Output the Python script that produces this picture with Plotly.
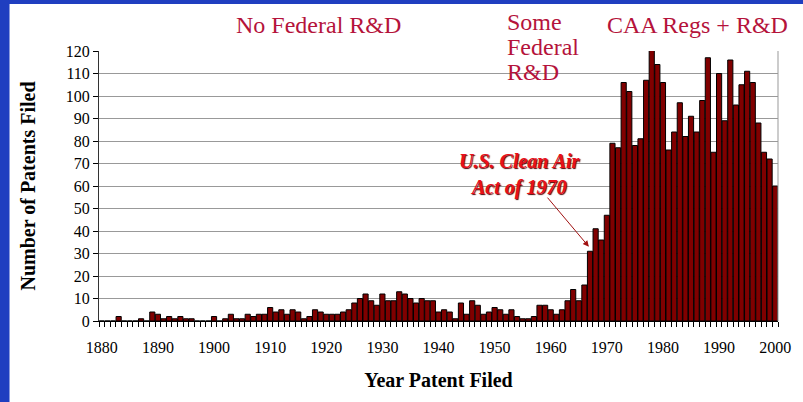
import plotly.graph_objects as go

years = list(range(1880, 2001))
patents = {
    1883: 2, 1887: 1, 1889: 4, 1890: 3, 1891: 1, 1892: 2, 1893: 1, 1894: 2, 1895: 1, 1896: 1,
    1900: 2, 1902: 1, 1903: 3, 1904: 1, 1905: 1, 1906: 3, 1907: 2, 1908: 3, 1909: 3,
    1910: 6, 1911: 4, 1912: 5, 1913: 3, 1914: 5, 1915: 4, 1916: 1, 1917: 2, 1918: 5, 1919: 4,
    1920: 3, 1921: 3, 1922: 3, 1923: 4, 1924: 5, 1925: 8, 1926: 10, 1927: 12, 1928: 9, 1929: 7,
    1930: 12, 1931: 9, 1932: 9, 1933: 13, 1934: 12, 1935: 10, 1936: 8, 1937: 10, 1938: 9, 1939: 9,
    1940: 4, 1941: 5, 1942: 4, 1943: 1, 1944: 8, 1945: 3, 1946: 9, 1947: 7, 1948: 3, 1949: 4,
    1950: 6, 1951: 5, 1952: 3, 1953: 5, 1954: 2, 1955: 1, 1956: 1, 1957: 2, 1958: 7, 1959: 7,
    1960: 5, 1961: 3, 1962: 5, 1963: 9, 1964: 14, 1965: 9, 1966: 16, 1967: 31, 1968: 41, 1969: 36,
    1970: 47, 1971: 79, 1972: 77, 1973: 106, 1974: 102, 1975: 78, 1976: 81, 1977: 107, 1978: 121, 1979: 114,
    1980: 106, 1981: 76, 1982: 84, 1983: 97, 1984: 82, 1985: 91, 1986: 84, 1987: 98, 1988: 117, 1989: 75,
    1990: 110, 1991: 89, 1992: 116, 1993: 96, 1994: 105, 1995: 111, 1996: 106, 1997: 88, 1998: 75, 1999: 72,
    2000: 60,
}
values = [patents.get(y, 0) for y in years]
tick_years = list(range(1880, 2001, 10))
y_ticks = list(range(0, 121, 10))

SERIF = "Liberation Serif"
HEAD = "#b5133b"

fig = go.Figure()
fig.add_trace(go.Bar(
    x=years, y=values,
    marker=dict(color="#800000", line=dict(color="black", width=1)),
    cliponaxis=False, hoverinfo="x+y",
))

# plot-area pixel geometry, used to place slide decorations in paper coords
L, R, T, B = 99, 782, 51, 321
W, H = R - L, B - T
def px(xp): return (xp - L) / W
def py(yp): return (B - yp) / H

fig.add_shape(type="rect", xref="paper", yref="paper", x0=px(9), x1=px(810), y0=py(4), y1=py(410),
              fillcolor="white", line=dict(width=0), layer="below")
fig.add_shape(type="line", xref="paper", yref="paper", x0=1, x1=1, y0=0, y1=1,
              line=dict(color="#999999", width=1))

def label(text, x, y, anchor="center", size=24):
    fig.add_annotation(text=text, xref="paper", yref="paper", x=px(x), y=py(y),
                       xanchor=anchor, yanchor="middle", showarrow=False,
                       font=dict(family=SERIF, size=size, color=HEAD))

label("No Federal R&D", 320, 25)
label("Some", 507, 22, "left")
label("Federal", 507, 47, "left")
label("R&D", 507, 72, "left")
label("CAA Regs + R&D", 701, 25)

fig.add_annotation(text="<b><i>U.S. Clean Air<br>Act of 1970</i></b>", x=1954.5, y=65,
                   xanchor="center", yanchor="middle", showarrow=False, align="center",
                   font=dict(family=SERIF, size=20, color="#e8101a", shadow="1px 1px 1px #500000"))
fig.add_annotation(text="", x=1966.8, y=33, ax=1959.2, ay=55.5, axref="x", ayref="y",
                   showarrow=True, arrowhead=2, arrowsize=1.2, arrowwidth=1, arrowcolor="#a01010")

fig.update_layout(
    width=803, height=402,
    margin=dict(l=L, r=803 - R, t=T, b=402 - B),
    paper_bgcolor="#1f3ec0", plot_bgcolor="white",
    bargap=0.08, showlegend=False,
    font=dict(family=SERIF, size=16, color="black"),
    xaxis=dict(
        range=[1879.5, 2000.5], tickvals=tick_years, ticktext=[str(t) for t in tick_years],
        ticks="", ticklabelstandoff=12, showgrid=False, zeroline=False,
        showline=True, linecolor="black", linewidth=1,
        minor=dict(tick0=1879.5, dtick=1, ticks="outside", ticklen=5, tickcolor="black", showgrid=False),
        title=dict(text="<b>Year Patent Filed</b>", font=dict(family=SERIF, size=20), standoff=17),
        tickfont=dict(family=SERIF, size=16),
    ),
    yaxis=dict(
        range=[0, 120], tickvals=y_ticks, ticks="outside", ticklen=5, tickcolor="black",
        showgrid=True, gridcolor="#999999", gridwidth=1, zeroline=False,
        showline=True, linecolor="#333333", linewidth=1,
        title=dict(text="<b>Number of Patents Filed</b>", font=dict(family=SERIF, size=20), standoff=24),
        tickfont=dict(family=SERIF, size=16),
    ),
)

fig.write_html("out.html", config={"displayModeBar": False},
               post_script="document.body.style.margin='0';document.body.style.overflow='hidden';")
